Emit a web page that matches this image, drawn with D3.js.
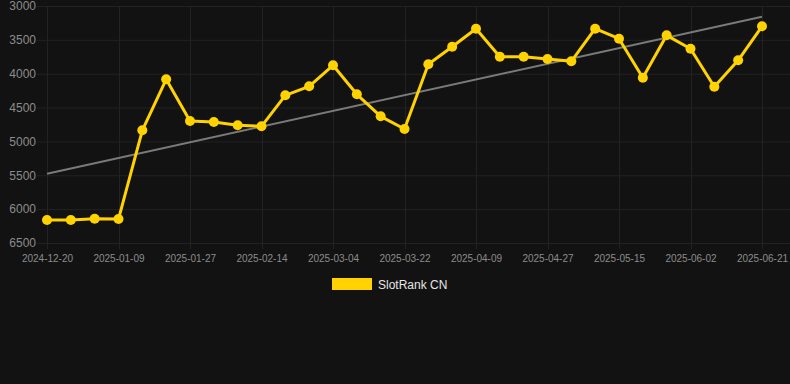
<!DOCTYPE html>
<html>
<head>
<meta charset="utf-8">
<script src="https://cdn.jsdelivr.net/npm/d3@7/dist/d3.min.js"></script>
<style>
  html, body { margin: 0; padding: 0; background: #121212; }
  svg { display: block; }
</style>
</head>
<body>
<svg id="chart" width="790" height="384"></svg>
<script>
// Categories (dates, one per point)
const dates = [
  "2024-12-20","2024-12-27","2025-01-03","2025-01-09","2025-01-15","2025-01-21",
  "2025-01-27","2025-02-02","2025-02-08","2025-02-14","2025-02-20","2025-02-26",
  "2025-03-04","2025-03-10","2025-03-16","2025-03-22","2025-03-28","2025-04-03",
  "2025-04-09","2025-04-15","2025-04-21","2025-04-27","2025-05-03","2025-05-09",
  "2025-05-15","2025-05-21","2025-05-27","2025-06-02","2025-06-08","2025-06-14",
  "2025-06-21"
];
// Series values (rank)
const rankCN = [
  6160, 6160, 6141, 6146, 4836, 4083,
  4698, 4713, 4762, 4777, 4319, 4186,
  3876, 4304, 4629, 4816, 3861, 3601,
  3335, 3749, 3749, 3783, 3817, 3335,
  3483, 4059, 3433, 3631, 4192, 3802,
  3300
];
// Trend line endpoints
const trendValues = [5477, 3158];
// Tick labels
const xTickLabels = [
  "2024-12-20","2025-01-09","2025-01-27","2025-02-14","2025-03-04","2025-03-22",
  "2025-04-09","2025-04-27","2025-05-15","2025-06-02","2025-06-21"
];
const yTicks = [3000, 3500, 4000, 4500, 5000, 5500, 6000, 6500];
const seriesName = "SlotRank CN";

const svg = d3.select("#chart");
const W = 790;
const gridLeft = 37, plotTop = 6, plotBottom = 243;

const x = d3.scalePoint().domain(dates).range([47, 762]);
const y = d3.scaleLinear().domain([3000, 6500]).range([plotTop, plotBottom]);

const gridColor = "#222222";

// Horizontal grid
svg.append("g").selectAll("line").data(yTicks).join("line")
  .attr("x1", gridLeft).attr("x2", W)
  .attr("y1", d => y(d) + 0.5).attr("y2", d => y(d) + 0.5)
  .attr("stroke", gridColor).attr("stroke-width", 1);

// Vertical grid
svg.append("g").selectAll("line").data(xTickLabels).join("line")
  .attr("x1", d => Math.round(x(d)) + 0.5).attr("x2", d => Math.round(x(d)) + 0.5)
  .attr("y1", plotTop).attr("y2", plotBottom + 6)
  .attr("stroke", gridColor).attr("stroke-width", 1);

// Y axis labels
const yAxis = d3.axisLeft(y).tickValues(yTicks).tickSize(0).tickPadding(0).tickFormat(d3.format("d"));
const gy = svg.append("g").attr("transform", `translate(36,0)`).call(yAxis);
gy.select(".domain").remove();
gy.selectAll("text").attr("fill", "#8c8c8c").attr("font-size", "12px")
  .attr("font-family", "'Liberation Sans', Arial, sans-serif");

// X axis labels
const xAxis = d3.axisBottom(x).tickValues(xTickLabels).tickSize(0).tickPadding(0);
const gx = svg.append("g").attr("transform", `translate(0,255)`).call(xAxis);
gx.select(".domain").remove();
gx.selectAll("text").attr("fill", "#8c8c8c").attr("font-size", "10px")
  .attr("font-family", "'Liberation Sans', Arial, sans-serif");

// Trend line
const ends = [dates[0], dates[dates.length - 1]];
svg.append("line")
  .attr("x1", x(ends[0])).attr("y1", y(trendValues[0]))
  .attr("x2", x(ends[1])).attr("y2", y(trendValues[1]))
  .attr("stroke", "#7a7a7a").attr("stroke-width", 2);

// Series line
const gold = "#FFD200";
const line = d3.line().x((d, i) => x(dates[i])).y(d => y(d));
svg.append("path").datum(rankCN)
  .attr("d", line).attr("fill", "none")
  .attr("stroke", gold).attr("stroke-width", 3).attr("stroke-linejoin", "round");

svg.append("g").selectAll("circle").data(rankCN).join("circle")
  .attr("cx", (d, i) => x(dates[i])).attr("cy", d => y(d))
  .attr("r", 5).attr("fill", gold);

// Legend
const lg = svg.append("g");
lg.append("rect").attr("x", 332).attr("y", 278).attr("width", 40).attr("height", 12).attr("fill", gold);
lg.append("text").attr("x", 378).attr("y", 285).attr("dy", "0.35em")
  .attr("fill", "#e6e6e6").attr("font-size", "12px")
  .attr("font-family", "'Liberation Sans', Arial, sans-serif")
  .text(seriesName);
</script>
</body>
</html>
